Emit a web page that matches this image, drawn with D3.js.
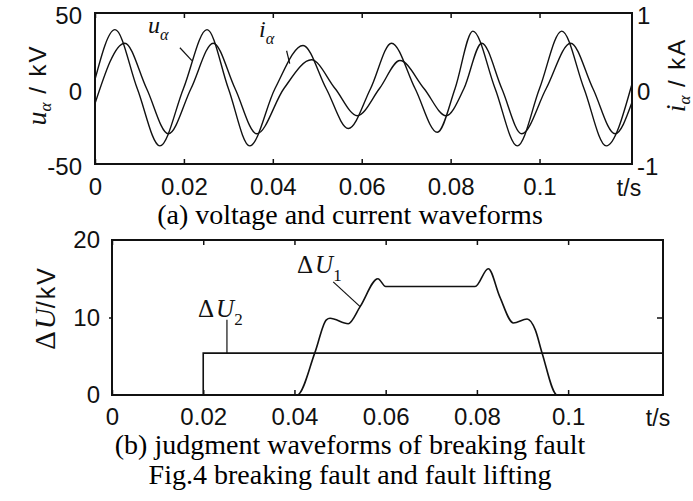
<!DOCTYPE html>
<html>
<head>
<meta charset="utf-8">
<script src="https://cdn.jsdelivr.net/npm/d3@7"></script>
<style>
  body { margin: 0; background: #fff; }
  svg { display: block; }
  .tick text { font-family: "Liberation Sans", Arial, sans-serif; font-size: 24px; fill: #111; }
  .tick line { stroke: #111; stroke-width: 1.5; }
</style>
</head>
<body>
<div id="chart"></div>
<script>
// (a) voltage u_a (kV) and current i_a (kA), read at peaks, troughs and zero crossings
var uaT = [0, 0.0045, 0.0095, 0.0146, 0.0199, 0.0252, 0.0300, 0.0348, 0.0405, 0.0468, 0.0520, 0.0570, 0.0620, 0.0667, 0.0720, 0.0770, 0.0810, 0.0850, 0.0900, 0.0950, 0.1000, 0.1050, 0.1100, 0.1150, 0.1207];
var uaV = [6, 39, 0, -38, 0, 39, 0, -38, 0, 28.5, 0, -26.5, 0, 30, 0, -29, 0, 38, 0, -38, 0, 38, 0, -38, 2];
var iaT = [0, 0.0067, 0.0116, 0.0165, 0.0216, 0.0266, 0.0315, 0.0364, 0.0425, 0.0487, 0.0540, 0.0590, 0.0640, 0.0686, 0.0740, 0.0790, 0.0830, 0.0870, 0.0915, 0.0960, 0.1015, 0.1070, 0.1120, 0.1170, 0.1207];
var iaV = [-0.2, 0.6, 0, -0.6, 0, 0.6, 0, -0.6, 0, 0.38, 0, -0.36, 0, 0.37, 0, -0.36, 0, 0.6, 0, -0.6, 0, 0.6, 0, -0.6, -0.2];

// (b) judgment waveforms (kV)
var du1T = [0.02, 0.0406, 0.0445, 0.0470, 0.0478, 0.0518, 0.0544, 0.0583, 0.0600, 0.0796, 0.0825, 0.0850, 0.0880, 0.0910, 0.0928, 0.0943, 0.0976, 0.1208];
var du1V = [0, 0, 5.5, 9.7, 9.9, 9.2, 11.4, 15, 14, 14, 16.3, 12.7, 9.3, 9.8, 8.4, 5.4, 0, 0];
var du2T = [0.02, 0.02, 0.1208];
var du2V = [0, 5.4, 5.4];

var tTicks = [0, 0.02, 0.04, 0.06, 0.08, 0.1];
var uTicks = [-50, 0, 50];
var iTicks = [-1, 0, 1];
var dTicks = [0, 10, 20];
var tMax = 0.1208;

var width = 693, height = 501;
var ink = "#111";
var plain = d => String(d);

var svg = d3.select("#chart").append("svg")
    .attr("width", width)
    .attr("height", height);

svg.append("rect").attr("width", width).attr("height", height).attr("fill", "#fff");

var toPts = (ts, vs) => ts.map((t, i) => [t, vs[i]]);

// ---------- panel (a) ----------
var xa = d3.scaleLinear().domain([0, tMax]).range([95, 632]);
var ya = d3.scaleLinear().domain([-50, 50]).range([164, 13]);
var yi = d3.scaleLinear().domain([-1, 1]).range([164, 13]);

var ga = svg.append("g");

ga.append("g")
  .attr("transform", "translate(0,164)")
  .call(d3.axisBottom(xa).tickValues(tTicks).tickFormat(plain).tickSizeInner(-5).tickSizeOuter(0).tickPadding(14))
  .call(g => g.select(".domain").remove());
ga.append("g")
  .attr("transform", "translate(0,13)")
  .call(d3.axisTop(xa).tickValues(tTicks).tickFormat("").tickSizeInner(-5).tickSizeOuter(0))
  .call(g => g.select(".domain").remove());
ga.append("g")
  .attr("transform", "translate(95,0)")
  .call(d3.axisLeft(ya).tickValues(uTicks).tickFormat(plain).tickSizeInner(0).tickSizeOuter(0).tickPadding(13))
  .call(g => g.select(".domain").remove())
  .call(g => g.selectAll(".tick text").attr("dy", "0.45em"));
ga.append("g")
  .attr("transform", "translate(632,0)")
  .call(d3.axisRight(yi).tickValues(iTicks).tickFormat(plain).tickSizeInner(0).tickSizeOuter(0).tickPadding(5))
  .call(g => g.select(".domain").remove())
  .call(g => g.selectAll(".tick text").attr("dy", "0.45em"));

ga.append("rect")
  .attr("x", 95).attr("y", 13).attr("width", 537).attr("height", 151)
  .attr("fill", "none").attr("stroke", ink).attr("stroke-width", 2);

var lineU = d3.line().x(d => xa(d[0])).y(d => ya(d[1])).curve(d3.curveMonotoneX);
var lineI = d3.line().x(d => xa(d[0])).y(d => yi(d[1])).curve(d3.curveMonotoneX);

ga.append("path").datum(toPts(uaT, uaV))
  .attr("d", lineU).attr("fill", "none").attr("stroke", ink).attr("stroke-width", 1.4);
ga.append("path").datum(toPts(iaT, iaV))
  .attr("d", lineI).attr("fill", "none").attr("stroke", ink).attr("stroke-width", 1.4);

// curve labels with leaders
function curveLabel(g, x, y, main, sub, size) {
  var t = g.append("text").attr("x", x).attr("y", y)
    .attr("font-family", "'Liberation Serif', 'Times New Roman', serif")
    .attr("font-style", "italic").attr("font-size", size).attr("fill", ink);
  t.append("tspan").text(main);
  t.append("tspan").attr("font-size", size * 0.68).attr("dy", 7).text(sub);
}
curveLabel(ga, 148, 33, "u", "α", 24);
curveLabel(ga, 259, 37, "i", "α", 24);
ga.append("line")
  .attr("x1", xa(0.0191)).attr("y1", ya(27)).attr("x2", xa(0.0218)).attr("y2", ya(18.5))
  .attr("stroke", ink).attr("stroke-width", 1.2);
ga.append("line")
  .attr("x1", xa(0.0431)).attr("y1", ya(25)).attr("x2", xa(0.0438)).attr("y2", ya(16.5))
  .attr("stroke", ink).attr("stroke-width", 1.2);

// axis titles
var tl = ga.append("text")
  .attr("transform", "translate(46,85) rotate(-90)")
  .attr("text-anchor", "middle").attr("fill", ink)
  .attr("font-family", "'Liberation Sans', Arial, sans-serif").attr("font-size", 24);
tl.append("tspan").attr("font-family", "'Liberation Serif', serif").attr("font-style", "italic").attr("font-size", 28).text("u");
tl.append("tspan").attr("font-family", "'Liberation Serif', serif").attr("font-style", "italic").attr("font-size", 17).attr("dy", 5).text("α");
tl.append("tspan").attr("dy", -5).attr("letter-spacing", 2).text(" / kV");

var tr = ga.append("text")
  .attr("transform", "translate(685,75) rotate(-90)")
  .attr("text-anchor", "middle").attr("fill", ink)
  .attr("font-family", "'Liberation Sans', Arial, sans-serif").attr("font-size", 24);
tr.append("tspan").attr("font-family", "'Liberation Serif', serif").attr("font-style", "italic").attr("font-size", 28).text("i");
tr.append("tspan").attr("font-family", "'Liberation Serif', serif").attr("font-style", "italic").attr("font-size", 17).attr("dy", 5).text("α");
tr.append("tspan").attr("dy", -5).attr("letter-spacing", 2).text(" / kA");

ga.append("text").attr("x", 629).attr("y", 196).attr("text-anchor", "middle")
  .attr("font-family", "'Liberation Sans', Arial, sans-serif").attr("font-size", 23).attr("fill", ink)
  .text("t/s");

// ---------- panel (b) ----------
var xb = d3.scaleLinear().domain([0, tMax]).range([112, 663]);
var yb = d3.scaleLinear().domain([0, 20]).range([395, 240]);

var gb = svg.append("g");

gb.append("g")
  .attr("transform", "translate(0,395)")
  .call(d3.axisBottom(xb).tickValues(tTicks).tickFormat(plain).tickSizeInner(-5).tickSizeOuter(0).tickPadding(13))
  .call(g => g.select(".domain").remove());
gb.append("g")
  .attr("transform", "translate(0,240)")
  .call(d3.axisTop(xb).tickValues(tTicks).tickFormat("").tickSizeInner(-5).tickSizeOuter(0))
  .call(g => g.select(".domain").remove());
gb.append("g")
  .attr("transform", "translate(112,0)")
  .call(d3.axisLeft(yb).tickValues(dTicks).tickFormat(plain).tickSizeInner(3).tickSizeOuter(0).tickPadding(9))
  .call(g => g.select(".domain").remove())
  .call(g => g.selectAll(".tick line").filter(d => d !== 10).remove());
gb.append("g")
  .attr("transform", "translate(663,0)")
  .call(d3.axisRight(yb).tickValues([10]).tickFormat("").tickSizeInner(-6).tickSizeOuter(0))
  .call(g => g.select(".domain").remove());

gb.append("rect")
  .attr("x", 112).attr("y", 240).attr("width", 551).attr("height", 155)
  .attr("fill", "none").attr("stroke", ink).attr("stroke-width", 2);

var lineB = d3.line().x(d => xb(d[0])).y(d => yb(d[1]));

gb.append("path").datum(toPts(du2T, du2V))
  .attr("d", lineB).attr("fill", "none").attr("stroke", ink).attr("stroke-width", 1.6);
gb.append("path").datum(toPts(du1T, du1V))
  .attr("d", lineB.curve(d3.curveMonotoneX)).attr("fill", "none").attr("stroke", ink).attr("stroke-width", 1.6);

function deltaLabel(g, x, y, sub) {
  var t = g.append("text").attr("x", x).attr("y", y)
    .attr("font-family", "'Liberation Serif', 'Times New Roman', serif")
    .attr("font-size", 25).attr("fill", ink);
  t.append("tspan").text("Δ");
  t.append("tspan").attr("font-style", "italic").attr("dx", 2).text("U");
  t.append("tspan").attr("font-size", 17).attr("dy", 8).text(sub);
}
deltaLabel(gb, 198, 317, "2");
deltaLabel(gb, 297, 273, "1");
gb.append("line")
  .attr("x1", xb(0.0252)).attr("y1", yb(9.7)).attr("x2", xb(0.0252)).attr("y2", yb(5.4))
  .attr("stroke", ink).attr("stroke-width", 1.2);
gb.append("line")
  .attr("x1", xb(0.0485)).attr("y1", yb(14.6)).attr("x2", xb(0.0544)).attr("y2", yb(11.4))
  .attr("stroke", ink).attr("stroke-width", 1.2);

var bl = gb.append("text")
  .attr("transform", "translate(55,308) rotate(-90)")
  .attr("text-anchor", "middle").attr("fill", ink)
  .attr("font-family", "'Liberation Serif', serif").attr("font-size", 29);
bl.append("tspan").text("Δ");
bl.append("tspan").attr("font-style", "italic").attr("dx", 2).text("U");
bl.append("tspan").attr("font-family", "'Liberation Sans', Arial, sans-serif").attr("font-size", 25).attr("letter-spacing", 2).text("/kV");

gb.append("text").attr("x", 658).attr("y", 426).attr("text-anchor", "middle")
  .attr("font-family", "'Liberation Sans', Arial, sans-serif").attr("font-size", 23).attr("fill", ink)
  .text("t/s");

// ---------- captions ----------
var caps = [
  { text: "(a) voltage and current waveforms", y: 224 },
  { text: "(b) judgment waveforms of breaking fault", y: 454 },
  { text: "Fig.4 breaking fault and fault lifting", y: 484 }
];
svg.selectAll("text.caption")
  .data(caps)
  .join("text")
  .attr("class", "caption")
  .attr("x", 350)
  .attr("y", d => d.y)
  .attr("text-anchor", "middle")
  .attr("font-family", "'Liberation Serif', 'Times New Roman', serif")
  .attr("font-size", 28)
  .attr("fill", "#000")
  .text(d => d.text);
</script>
</body>
</html>
